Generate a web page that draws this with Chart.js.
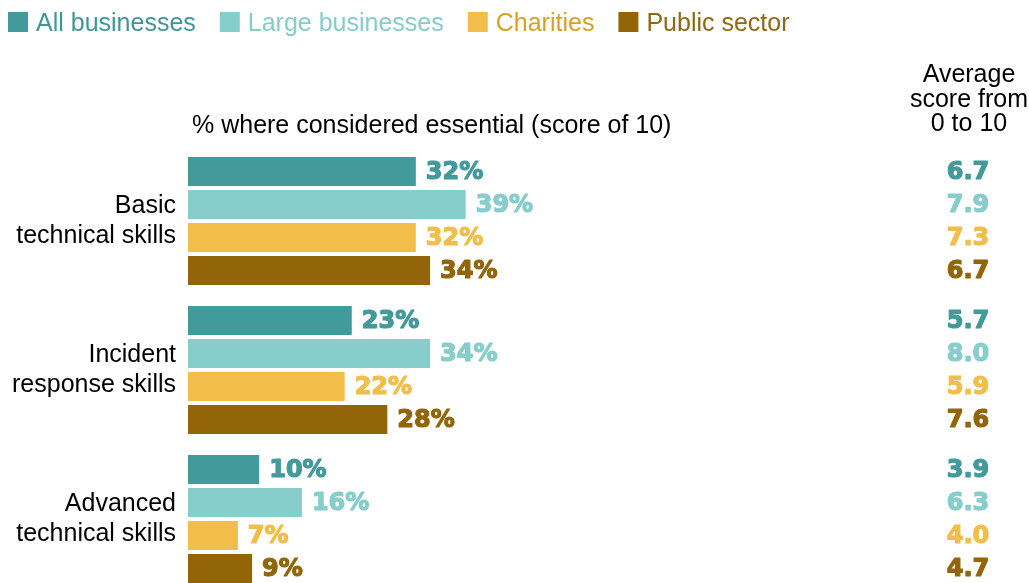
<!DOCTYPE html>
<html>
<head>
<meta charset="utf-8">
<script src="https://cdn.jsdelivr.net/npm/chart.js@4/dist/chart.umd.min.js"></script>
<style>
  html, body { margin: 0; padding: 0; background: #fff; overflow: hidden; }
  #wrap { position: relative; width: 1029px; height: 600px; }
</style>
</head>
<body>
<div id="wrap"><canvas id="chart"></canvas></div>
<script>
// skills categories, one group of bars per row
const categories = [
  ['Basic', 'technical skills'],
  ['Incident', 'response skills'],
  ['Advanced', 'technical skills'],
];

const seriesNames = ['All businesses', 'Large businesses', 'Charities', 'Public sector'];
const seriesColors = ['#429A9A', '#86CDCB', '#F1BE4B', '#926508'];
const legendTextColors = ['#3F9696', '#85CCCA', '#D9A021', '#8E6912'];

// % rating the skill as essential (score of 10)
const allBusinesses = [32, 23, 10];
const largeBusinesses = [39, 34, 16];
const charities = [32, 22, 7];
const publicSector = [34, 28, 9];

// average score from 0 to 10
const avgAllBusinesses = [6.7, 5.7, 3.9];
const avgLargeBusinesses = [7.9, 8.0, 6.3];
const avgCharities = [7.3, 5.9, 4.0];
const avgPublicSector = [6.7, 7.6, 4.7];

const seriesValues = [allBusinesses, largeBusinesses, charities, publicSector];
const seriesAverages = [avgAllBusinesses, avgLargeBusinesses, avgCharities, avgPublicSector];

const TEXT_FONT = '25px "Liberation Sans", Arial, sans-serif';
const VALUE_FONT = 'bold 24px "DejaVu Sans", sans-serif';

// heavy label: fill plus a thin stroke of the same colour
function heavyText(ctx, text, x, y, color) {
  ctx.fillStyle = color;
  ctx.strokeStyle = color;
  ctx.lineWidth = 1.2;
  ctx.lineJoin = 'round';
  ctx.strokeText(text, x, y);
  ctx.fillText(text, x, y);
}

const annotations = {
  id: 'annotations',
  afterDraw(chart) {
    const ctx = chart.ctx;
    ctx.save();

    // legend row across the top
    ctx.font = TEXT_FONT;
    ctx.textAlign = 'left';
    ctx.textBaseline = 'alphabetic';
    let x = 8;
    chart.data.datasets.forEach((ds, i) => {
      ctx.fillStyle = ds.backgroundColor;
      ctx.fillRect(x, 12, 20, 20);
      ctx.fillStyle = legendTextColors[i];
      ctx.fillText(ds.label, x + 28, 31);
      x += 28 + ctx.measureText(ds.label).width + 24;
    });

    // column headings
    ctx.fillStyle = '#000';
    ctx.fillText('% where considered essential (score of 10)', 192, 133);
    ctx.textAlign = 'center';
    ['Average', 'score from', '0 to 10'].forEach((line, i) => {
      ctx.fillText(line, 969, 82 + i * 24.5);
    });

    // bar values and average scores
    ctx.font = VALUE_FONT;
    ctx.textBaseline = 'middle';
    chart.data.datasets.forEach((ds, i) => {
      const meta = chart.getDatasetMeta(i);
      meta.data.forEach((bar, j) => {
        ctx.textAlign = 'left';
        heavyText(ctx, ds.data[j] + '%', bar.x + 10, bar.y + 1, ds.backgroundColor);
        ctx.textAlign = 'center';
        heavyText(ctx, seriesAverages[i][j].toFixed(1), 968, bar.y + 1, ds.backgroundColor);
      });
    });

    ctx.restore();
  },
};

new Chart(document.getElementById('chart'), {
  type: 'bar',
  data: {
    labels: categories,
    datasets: seriesNames.map((name, i) => ({
      label: name,
      data: seriesValues[i],
      backgroundColor: seriesColors[i],
      borderWidth: 0,
      barPercentage: 0.88,
      categoryPercentage: 0.886,
    })),
  },
  options: {
    indexAxis: 'y',
    responsive: true,
    maintainAspectRatio: false,
    animation: false,
    layout: { padding: { top: 146.5, bottom: 6.5, left: 0, right: 129 } },
    scales: {
      x: { display: false, min: 0, max: 100 },
      y: {
        grid: { display: false, drawTicks: false },
        border: { display: false },
        ticks: {
          color: '#000',
          padding: 12,
          font: { family: '"Liberation Sans", Arial, sans-serif', size: 25 },
        },
        afterFit: (scale) => {
          scale.width = 188;
          scale.paddingTop = 0;
          scale.paddingBottom = 0;
        },
      },
    },
    plugins: {
      legend: { display: false },
      tooltip: { enabled: false },
    },
  },
  plugins: [annotations],
});
</script>
</body>
</html>
